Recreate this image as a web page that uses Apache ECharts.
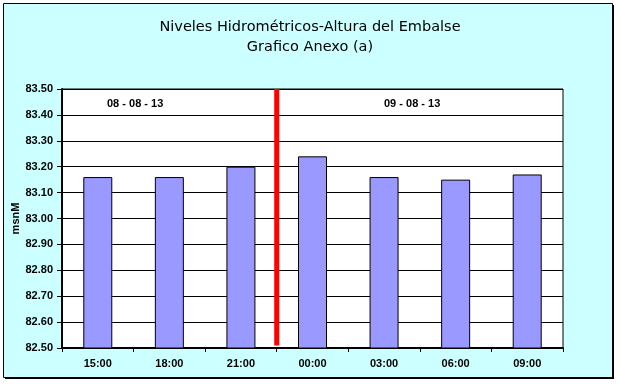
<!DOCTYPE html>
<html>
<head>
<meta charset="utf-8">
<script src="https://cdn.jsdelivr.net/npm/echarts@6/dist/echarts.min.js"></script>
<style>
html,body{margin:0;padding:0;background:#fff;}
#chart{width:620px;height:385px;}
</style>
</head>
<body>
<div id="chart"></div>
<script>
var categories = ['15:00','18:00','21:00','00:00','03:00','06:00','09:00'];
var levels = [83.16, 83.16, 83.20, 83.24, 83.16, 83.15, 83.17];
var yTicks = [82.5, 83.5, 0.1];
var dividerAt = 3; // boundary between 21:00 and 00:00 (category index)
var dateLabels = ['08 - 08 - 13', '09 - 08 - 13'];
var titleLines = ['Niveles Hidrométricos-Altura del Embalse', 'Grafico Anexo (a)'];

var chart = echarts.init(document.getElementById('chart'));
var font = 'Arial, "Liberation Sans", sans-serif';
chart.setOption({
  backgroundColor: '#fff',
  animation: false,
  title: {
    text: titleLines.join('\n'),
    left: 'center',
    top: 12,
    textStyle: { fontFamily: '"DejaVu Sans", sans-serif', fontSize: 14.5, fontWeight: 'normal', color: '#000', lineHeight: 20 }
  },
  graphic: [
    { type: 'rect', z: -10, shape: { x: 5, y: 5, width: 609, height: 374 }, style: { fill: '#000' } },
    { type: 'rect', z: -9, shape: { x: 3.5, y: 3.5, width: 609, height: 374 }, style: { fill: '#CCFFFF', stroke: '#000', lineWidth: 1 } },
    { type: 'text', z: 50, left: 107, top: 98, style: { text: dateLabels[0], font: 'bold 11px ' + font, fill: '#000' } },
    { type: 'text', z: 50, left: 384, top: 98, style: { text: dateLabels[1], font: 'bold 11px ' + font, fill: '#000' } }
  ],
  grid: {
    left: 62, right: 57, top: 89, bottom: 37,
    containLabel: false,
    outerBoundsMode: 'none',
    show: true, backgroundColor: '#fff', borderColor: '#000', borderWidth: 1
  },
  xAxis: [{
    type: 'category',
    data: categories,
    axisLine: { lineStyle: { color: '#000', width: 2 } },
    axisTick: { show: true, length: 4, lineStyle: { color: '#000' } },
    axisLabel: { color: '#000', fontFamily: font, fontSize: 11, fontWeight: 'bold', margin: 10 },
    splitLine: { show: false }
  }, {
    type: 'value', min: 0, max: categories.length, show: false
  }],
  yAxis: {
    type: 'value',
    min: yTicks[0], max: yTicks[1], interval: yTicks[2],
    name: 'msnM',
    nameLocation: 'middle',
    nameGap: 41,
    nameMoveOverlap: false,
    nameTextStyle: { color: '#000', fontFamily: font, fontSize: 11, fontWeight: 'bold' },
    axisLine: { show: true, lineStyle: { color: '#000', width: 2 } },
    axisTick: { show: true, length: 5, lineStyle: { color: '#000' } },
    axisLabel: { color: '#000', fontFamily: font, fontSize: 11, fontWeight: 'bold', margin: 9,
      formatter: function (v) { return v.toFixed(2); } },
    splitLine: { show: true, lineStyle: { color: '#000', width: 1 } }
  },
  series: [{
    type: 'bar',
    data: levels,
    barWidth: 29,
    itemStyle: { color: '#9999FF', borderColor: '#000', borderWidth: 1 }
  }, {
    type: 'line',
    xAxisIndex: 1,
    data: [[dividerAt, yTicks[0] + 0.01], [dividerAt, yTicks[1]]],
    symbol: 'none',
    lineStyle: { color: '#FF0000', width: 5, cap: 'butt' },
    z: 5
  }]
});
</script>
</body>
</html>
